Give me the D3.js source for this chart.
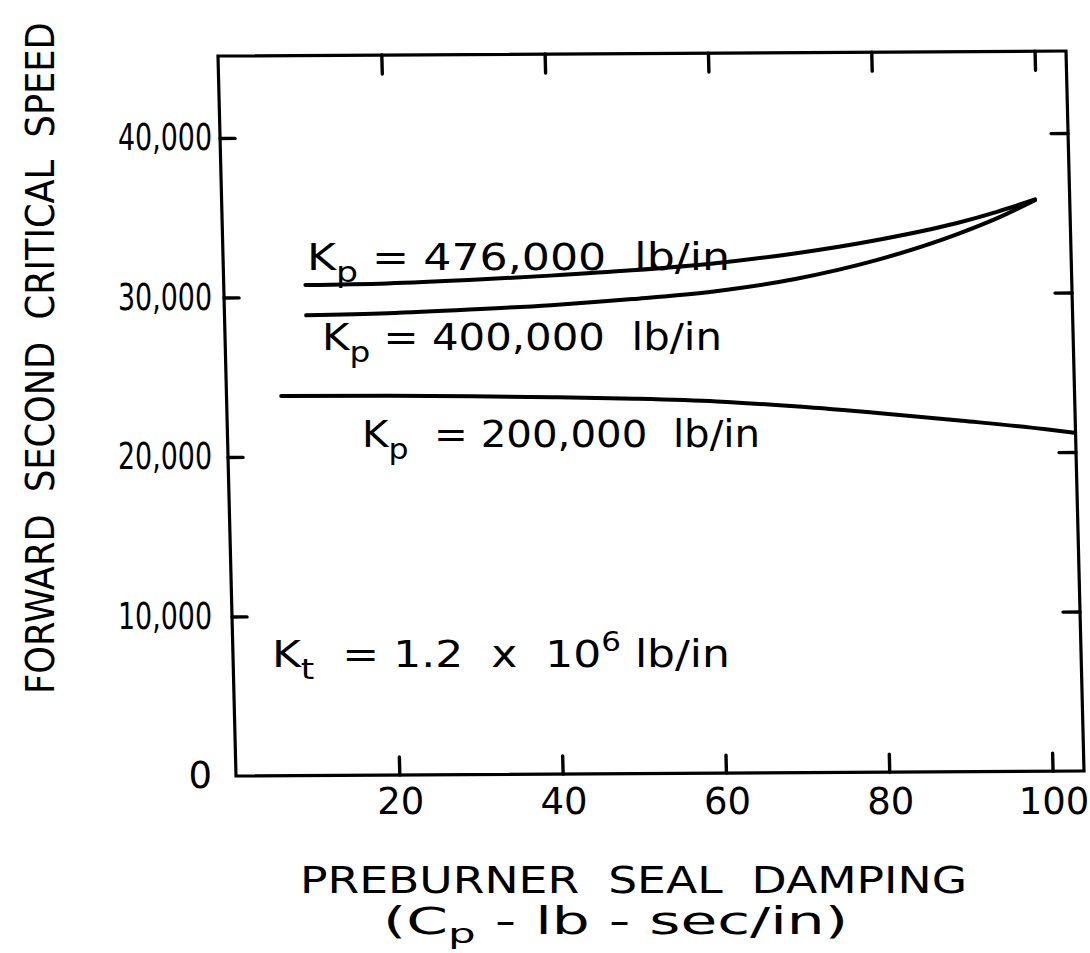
<!DOCTYPE html>
<html><head><meta charset="utf-8">
<script src="https://cdn.jsdelivr.net/npm/d3@7"></script>
<style>body{margin:0;background:#fff}</style>
</head><body>
<svg id="c" width="1090" height="953"></svg>
<script>
// ---- data ----
const dampingTicks = [20, 40, 60, 80, 100];
const speedTicks = [0, 10000, 20000, 30000, 40000];
const kp476X = [10, 20, 30, 40, 50, 60, 70, 80, 90, 95, 99.6];
const kp476Y = [30750, 30820, 31000, 31250, 31550, 31950, 32550, 33350, 34400, 35100, 35850];
const kp400X = [10, 20, 30, 40, 50, 60, 70, 80, 90, 95, 99.6];
const kp400Y = [28850, 28950, 29150, 29400, 29750, 30200, 30950, 32100, 33700, 34700, 35800];
const kp200X = [6.7, 20, 30, 40, 50, 60, 70, 80, 90, 100, 103.7];
const kp200Y = [23800, 23780, 23720, 23630, 23500, 23300, 22950, 22500, 22000, 21450, 21200];
const xDomain = [0, 103.85];
const yDomain = [0, 45140];

const svg = d3.select("#c");
const FONT = "DejaVu Sans";
const W = 848, H = 720;

// plot frame (scanned page is slightly skewed)
const g = svg.append("g").attr("transform", "matrix(1,-0.0059,0.025,1,218,56)");
const x = d3.scaleLinear().domain(xDomain).range([0, W]);
const y = d3.scaleLinear().domain(yDomain).range([H, 0]);

g.append("rect").attr("x", 0).attr("y", 0).attr("width", W).attr("height", H)
  .attr("fill", "none").attr("stroke", "#000").attr("stroke-width", 3.2);

function styleAxis(sel) {
  sel.select(".domain").remove();
  sel.selectAll(".tick line").attr("stroke", "#000").attr("stroke-width", 3.4).attr("stroke-linecap", "round");
}
g.append("g").attr("transform", `translate(0,${H})`)
  .call(d3.axisBottom(x).tickValues(dampingTicks).tickSizeInner(-18).tickSizeOuter(0).tickFormat(""))
  .call(styleAxis);
g.append("g")
  .call(d3.axisTop(x).tickValues(dampingTicks).tickSizeInner(-19).tickSizeOuter(0).tickFormat(""))
  .call(styleAxis);
g.append("g")
  .call(d3.axisLeft(y).tickValues(speedTicks.slice(1)).tickSizeInner(-15).tickSizeOuter(0).tickFormat(""))
  .call(styleAxis);
g.append("g").attr("transform", `translate(${W},0)`)
  .call(d3.axisRight(y).tickValues(speedTicks.slice(1)).tickSizeInner(-17).tickSizeOuter(0).tickFormat(""))
  .call(styleAxis);

const line = d3.line().x(d => x(d[0])).y(d => y(d[1])).curve(d3.curveMonotoneX);
[[kp476X, kp476Y], [kp400X, kp400Y], [kp200X, kp200Y]].forEach(([xs, ys]) => {
  g.append("path").datum(xs.map((v, i) => [v, ys[i]]))
    .attr("d", line).attr("fill", "none").attr("stroke", "#000")
    .attr("stroke-width", 4).attr("stroke-linecap", "round").attr("stroke-linejoin", "round");
});

// tick labels (not skewed on the scan)
const xLab = d3.scaleLinear().domain(xDomain).range([237, 1085]);
const yLab = d3.scaleLinear().domain(yDomain).range([776, 56]);
const xa = svg.append("g").attr("transform", "translate(0,788)")
  .call(d3.axisBottom(xLab).tickValues(dampingTicks).tickSize(0).tickPadding(0));
xa.select(".domain").remove();
xa.selectAll("text").attr("font-family", FONT).attr("font-size", 37).attr("fill", "#000");

const ya = svg.append("g").attr("transform", "translate(212,0)")
  .call(d3.axisLeft(yLab).tickValues(speedTicks).tickSize(0).tickPadding(0).tickFormat(d3.format(",")));
ya.select(".domain").remove();
ya.selectAll("text").attr("font-family", FONT).attr("font-size", 37).attr("fill", "#000")
  .each(function(d) { if (d > 0) d3.select(this).attr("textLength", 94).attr("lengthAdjust", "spacingAndGlyphs"); });

// text helper
function label(xPos, yPos, parts, size, len) {
  const t = svg.append("text").attr("x", xPos).attr("y", yPos)
    .attr("font-family", FONT).attr("font-size", size).attr("fill", "#000")
    .style("white-space", "pre");
  let shift = 0;
  parts.forEach(p => {
    const s = t.append("tspan").text(p.t);
    const want = p.dy || 0;
    if (want !== shift) { s.attr("dy", want - shift); shift = want; }
    if (p.size) s.attr("font-size", p.size);
  });
  if (len) t.attr("textLength", len).attr("lengthAdjust", "spacingAndGlyphs");
  return t;
}

// rotated y title, condensed by a horizontal scale instead of textLength
const yTitle = svg.append("text").attr("x", 0).attr("y", 0)
  .attr("font-family", FONT).attr("font-size", 39).attr("fill", "#000")
  .style("white-space", "pre").text("FORWARD  SECOND  CRITICAL  SPEED");
const natural = yTitle.node().getComputedTextLength();
yTitle.attr("transform", `translate(54,694) rotate(-90) scale(${672 / natural},1)`);

label(300, 893, [{t: "PREBURNER  SEAL  DAMPING"}], 37, 667);
label(383, 934, [{t: "(C"}, {t: "p", dy: 9, size: 27}, {t: " - lb - sec/in)"}], 37, 465);

label(307, 270, [{t: "K"}, {t: "p", dy: 12, size: 29}, {t: " = 476,000  lb/in"}], 37, 423);
label(322, 350, [{t: "K"}, {t: "p", dy: 12, size: 29}, {t: " = 400,000  lb/in"}], 37, 400);
label(362, 447, [{t: "K"}, {t: "p", dy: 12, size: 29}, {t: "  = 200,000  lb/in"}], 37, 398);
label(272, 667, [{t: "K"}, {t: "t", dy: 12, size: 29}, {t: "  = 1.2  x  10"}, {t: "6", dy: -16, size: 26}, {t: " lb/in"}], 37, 458);
</script>
</body></html>
